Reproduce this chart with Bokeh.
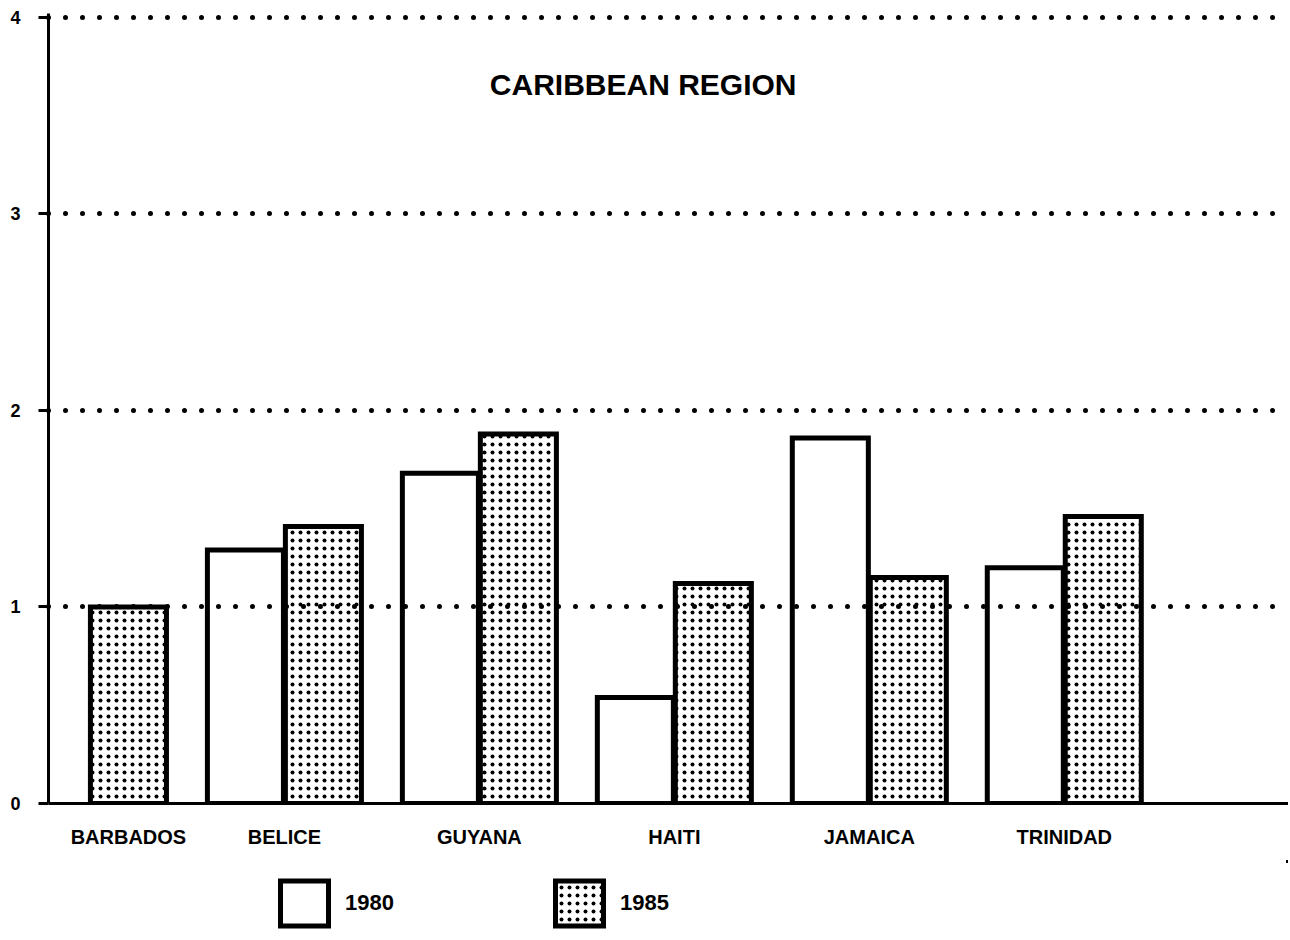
import numpy as np
from bokeh.plotting import figure
from bokeh.layouts import column
from bokeh.models import FixedTicker, Legend, LegendItem, Label, Range1d
from bokeh.embed import file_html
from bokeh.resources import INLINE

countries = ["BARBADOS", "BELICE", "GUYANA", "HAITI", "JAMAICA", "TRINIDAD"]
v1980 = [None, 1.29, 1.68, 0.54, 1.86, 1.20]
v1985 = [1.00, 1.41, 1.88, 1.12, 1.15, 1.46]
years = ["1980", "1985"]
yticks = [0, 1, 2, 3, 4]
title_text = "CARIBBEAN REGION"

FONT = "Liberation Sans"
OFF = 0.2
BW = 0.39
W = 1288

STYLE80 = dict(fill_color="white", line_color="black", line_width=5, line_join="miter")
STYLE85 = dict(fill_color="white", hatch_pattern="dot", hatch_color="black", hatch_scale=8,
               hatch_weight=3.5, hatch_alpha=1.0, line_color="black", line_width=5,
               line_join="miter")

p = figure(width=W, height=860, output_backend="svg", toolbar_location=None,
           x_range=Range1d(-0.21, 6.15), y_range=Range1d(0, 4.02),
           min_border_left=48, min_border_right=0, min_border_top=13, min_border_bottom=57)
p.outline_line_color = None
p.background_fill_color = "white"

idx = np.arange(len(countries))
x80 = [i - OFF for i, v in zip(idx, v1980) if v is not None]
t80 = [v for v in v1980 if v is not None]
x85 = [i + OFF for i, v in zip(idx, v1985) if v is not None]
t85 = [v for v in v1985 if v is not None]

p.vbar(x=x80, top=t80, width=BW, bottom=0, **STYLE80)
p.vbar(x=x85, top=t85, width=BW, bottom=0, **STYLE85)

# tick positions: center of the group, or center of the only bar present
tick_pos = []
for i, (a, b) in enumerate(zip(v1980, v1985)):
    if a is None:
        tick_pos.append(float(i + OFF))
    elif b is None:
        tick_pos.append(float(i - OFF))
    else:
        tick_pos.append(float(i))
p.xaxis.ticker = FixedTicker(ticks=tick_pos)
p.xaxis.major_label_overrides = {t: c for t, c in zip(tick_pos, countries)}
p.xaxis.major_tick_line_color = None
p.xaxis.minor_tick_line_color = None
p.xaxis.major_label_standoff = 16
p.xaxis.axis_line_width = 3
p.xaxis.axis_line_color = "black"
p.xaxis.major_label_text_font = FONT
p.xaxis.major_label_text_font_style = "bold"
p.xaxis.major_label_text_font_size = "20px"
p.xaxis.major_label_text_color = "black"

p.yaxis.ticker = FixedTicker(ticks=yticks)
p.yaxis.minor_tick_line_color = None
p.yaxis.major_tick_in = 0
p.yaxis.major_tick_out = 10
p.yaxis.major_tick_line_width = 3
p.yaxis.axis_line_width = 3
p.yaxis.major_label_standoff = 18
p.yaxis.major_label_text_font = FONT
p.yaxis.major_label_text_font_style = "bold"
p.yaxis.major_label_text_font_size = "18px"
p.yaxis.major_label_text_color = "black"

p.xgrid.grid_line_color = None
p.ygrid.ticker = FixedTicker(ticks=[t for t in yticks if t > 0])
p.ygrid.grid_line_color = "black"
p.ygrid.grid_line_width = 5
p.ygrid.grid_line_dash = "0 17"
p.ygrid.grid_line_cap = "round"
p.ygrid.level = "overlay"

p.add_layout(Label(x=2.84, y=3.66, text=title_text, text_align="center",
                   text_baseline="middle", text_font=FONT, text_font_style="bold",
                   text_font_size="30px", text_color="black"))

# legend strip below the chart (its bars lie outside this strip's visible range)
lg = figure(width=W, height=78, output_backend="svg", toolbar_location=None,
            x_axis_type=None, y_axis_type=None,
            x_range=Range1d(-100, -99), y_range=Range1d(-100, -99),
            min_border_left=48, min_border_right=0, min_border_top=0, min_border_bottom=0)
lg.grid.visible = False
lg.outline_line_color = None
k80 = lg.vbar(x=x80, top=t80, width=BW, bottom=0, **STYLE80)
k85 = lg.vbar(x=x85, top=t85, width=BW, bottom=0, **STYLE85)
legend = Legend(items=[LegendItem(label=years[0], renderers=[k80]),
                       LegendItem(label=years[1], renderers=[k85])],
                orientation="horizontal", location=(226, 7),
                glyph_width=60, glyph_height=56, label_standoff=11, label_width=60,
                spacing=144, padding=0, margin=0, border_line_color=None,
                background_fill_alpha=0,
                label_text_font=FONT, label_text_font_style="bold",
                label_text_font_size="22px", label_text_color="black")
lg.add_layout(legend)

open("out.html", "w").write(file_html(column(p, lg, spacing=0), INLINE))
